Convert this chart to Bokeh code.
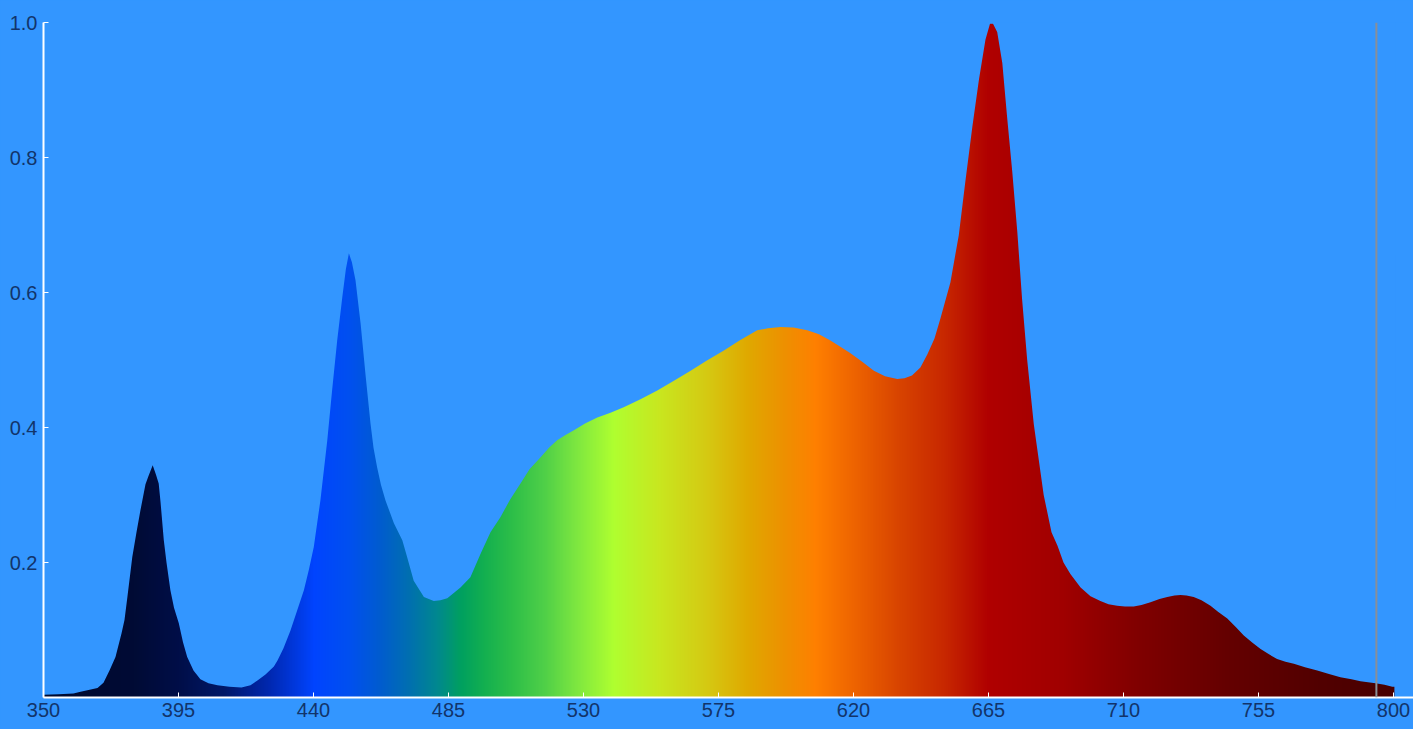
import numpy as np
from bokeh.plotting import figure
from bokeh.models import Range1d, FixedTicker, Span
from bokeh.embed import file_html
from bokeh.resources import INLINE

# ---- data ----
wavelength = [350, 355, 360, 362, 365, 368, 370, 372, 374, 376, 377, 378, 379.6, 381, 382.3, 384, 385,
              386.4, 387.5, 388.4, 389, 390.1, 391, 392.3, 393.5, 395.1, 396.5, 397.9, 400, 402.3, 405,
              408, 412, 416, 419, 421.2, 424, 426.8, 428, 430, 432.3, 434.5, 436.8, 438.5, 440.1, 442.3,
              444.6, 446.2, 447.9, 449.6, 450.8, 451.8, 452.8, 454, 455.7, 457.3, 459, 460, 461.2, 462.5,
              464, 466.8, 469.6, 471.2, 473.4, 476.8, 480.1, 482.3, 484.6, 489, 492.3, 495.7, 499, 502.3,
              505.5, 509, 512, 515.7, 518.5, 521.2, 524, 526.8, 530.5, 534.6, 539, 543.4, 549, 554.6, 560,
              565.7, 571, 576.8, 582, 587.9, 591.5, 595.7, 600, 604.6, 608.5, 612.3, 615.5, 619, 623,
              626.8, 630.5, 634.6, 637, 639.5, 642.3, 644.6, 647, 649, 652.3, 655.1, 657.3, 659.6, 661.8,
              664, 665.5, 666.5, 667.9, 669.6, 671.2, 672.9, 674.6, 676.2, 677.9, 680.1, 683.4, 686, 688,
              690, 692.3, 695.7, 699, 702.3, 705, 707.9, 710.5, 713.4, 716, 719, 722, 724.6, 727, 729, 731,
              733.4, 736, 739, 741.5, 744.6, 747.5, 750.1, 753, 755.7, 758.5, 761.2, 764, 766.8, 770.5,
              774.6, 778.5, 782.3, 786, 789, 794, 797, 799.6, 800.3]
intensity = [0.004, 0.005, 0.006, 0.008, 0.011, 0.014, 0.022, 0.040, 0.060, 0.095, 0.115, 0.150, 0.208,
             0.245, 0.277, 0.316, 0.328, 0.344, 0.330, 0.317, 0.290, 0.233, 0.200, 0.159, 0.133, 0.110,
             0.082, 0.060, 0.040, 0.027, 0.021, 0.018, 0.016, 0.015, 0.018, 0.025, 0.034, 0.046, 0.055,
             0.073, 0.099, 0.128, 0.159, 0.190, 0.223, 0.292, 0.381, 0.455, 0.529, 0.593, 0.635, 0.658,
             0.645, 0.618, 0.554, 0.480, 0.406, 0.370, 0.341, 0.315, 0.292, 0.258, 0.233, 0.208, 0.173,
             0.149, 0.143, 0.144, 0.147, 0.163, 0.178, 0.213, 0.245, 0.267, 0.293, 0.317, 0.338, 0.356,
             0.370, 0.381, 0.389, 0.396, 0.406, 0.415, 0.422, 0.430, 0.442, 0.455, 0.469, 0.484, 0.499,
             0.514, 0.529, 0.544, 0.547, 0.549, 0.548, 0.544, 0.538, 0.529, 0.520, 0.510, 0.497, 0.484,
             0.476, 0.472, 0.473, 0.477, 0.489, 0.508, 0.532, 0.562, 0.615, 0.685, 0.765, 0.845, 0.915,
             0.975, 0.998, 0.998, 0.986, 0.940, 0.860, 0.780, 0.690, 0.590, 0.500, 0.405, 0.300, 0.245,
             0.225, 0.200, 0.183, 0.163, 0.150, 0.143, 0.138, 0.136, 0.135, 0.135, 0.137, 0.141, 0.146,
             0.149, 0.151, 0.152, 0.151, 0.149, 0.144, 0.136, 0.127, 0.117, 0.104, 0.092, 0.081, 0.072,
             0.064, 0.057, 0.053, 0.050, 0.045, 0.040, 0.035, 0.030, 0.027, 0.024, 0.021, 0.019, 0.016,
             0.016]

x_ticks = [350, 395, 440, 485, 530, 575, 620, 665, 710, 755, 800]
y_ticks = [0.2, 0.4, 0.6, 0.8, 1.0]
y_tick_labels = {0.2: "0.2", 0.4: "0.4", 0.6: "0.6", 0.8: "0.8", 1.0: "1.0"}
marker_wavelength = 794.3

# ---- style: colour stops of the wavelength gradient ----
color_stop_wl = [350, 380, 395, 410, 425, 440, 452, 462, 472, 481, 489, 497, 507, 517, 528, 540,
                 555, 570, 585, 597, 607, 620, 635, 650, 665, 690, 715, 745, 775, 801]
color_stop_hex = ["#000a2e", "#000b35", "#000e48", "#001868", "#0028b0", "#0044ff", "#0050f0",
                  "#005cd0", "#0070b0", "#008890", "#00a060", "#14b050", "#30c048", "#50d048",
                  "#80e840", "#b0ff30", "#c8e820", "#d4cc14", "#e0a800", "#ee9000", "#ff8000",
                  "#ee6400", "#d84400", "#c82800", "#b00000", "#a00000", "#800000", "#640000",
                  "#520000", "#480000"]

BG = "#3396FF"
LABEL_COLOR = "#12346a"
FONT = "Liberation Sans"

x0 = wavelength[0]
x1 = wavelength[-1]

p = figure(width=1413, height=729, x_range=Range1d(350, 806.67), y_range=Range1d(0, 1.0),
           output_backend="svg", toolbar_location=None,
           min_border_left=43, min_border_top=22, min_border_bottom=32, min_border_right=0)
p.background_fill_color = BG
p.border_fill_color = BG
p.outline_line_color = None
p.grid.visible = False

# gradient image (colour by wavelength)
ncol = 1800
cols_wl = np.linspace(x0, x1, ncol)
rgb = np.array([[int(h[1:3], 16), int(h[3:5], 16), int(h[5:7], 16)] for h in color_stop_hex], dtype=float)
img = np.empty((1, ncol), dtype=np.uint32)
view = img.view(dtype=np.uint8).reshape((1, ncol, 4))
for c in range(3):
    view[0, :, c] = np.interp(cols_wl, color_stop_wl, rgb[:, c]).astype(np.uint8)
view[0, :, 3] = 255
p.image_rgba(image=[img], x=x0, y=0, dw=x1 - x0, dh=max(intensity) + 0.001)

# mask above the spectrum curve
mask_x = list(wavelength) + [x1 + 0.5, x1 + 0.5, x0 - 1, x0 - 1]
mask_y = list(intensity) + [intensity[-1], 1.2, 1.2, intensity[0]]
p.patch(mask_x, mask_y, fill_color=BG, line_color=None)

p.add_layout(Span(location=marker_wavelength, dimension="height", line_color="#8a8f96", line_width=2))

for ax in (p.xaxis[0], p.yaxis[0]):
    ax.axis_line_color = "white"
    ax.axis_line_width = 2
    ax.major_tick_line_color = "white"
    ax.major_tick_in = 5
    ax.major_tick_out = 0
    ax.minor_tick_line_color = None
    ax.major_label_text_font = FONT
    ax.major_label_text_font_size = "20px"
    ax.major_label_text_color = LABEL_COLOR

p.xaxis[0].ticker = FixedTicker(ticks=x_ticks)
p.xaxis[0].major_label_standoff = 5
p.yaxis[0].ticker = FixedTicker(ticks=y_ticks)
p.yaxis[0].major_label_overrides = y_tick_labels
p.yaxis[0].major_label_standoff = 6

html = file_html(p, INLINE, title="Spectrum")
html = html.replace("<body>", '<body style="background-color:%s;">' % BG)
open("out.html", "w").write(html)
